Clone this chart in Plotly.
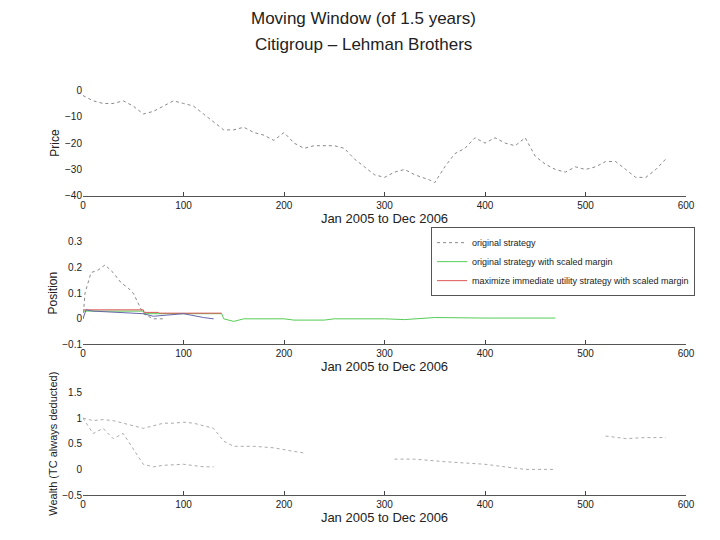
import plotly.graph_objects as go
from plotly.subplots import make_subplots

px = list(range(0, 340, 10)) + [345] + list(range(350, 590, 10))
price = [-2,-4,-5,-5,-4,-6,-9,-8,-6,-4,-5,-6,-9,-12,-15,-15,-14,-16,-17,-19,-16,-20,-22,-21,-21,-21,-22,-26,-29,-32,-33,-31,-30,-32,-34,
         -35,-29,-24,-22,-18,-20,-18,-20,-21,-18,-25,-28,-30,-31,-29,-30,-29,-27,-27,-30,-33,-33,-30,-26,-24]

pos_x_orig = [0,2,8,15,22,30,38,45,50,55,60,70,80]
pos_orig = [0.0,0.10,0.18,0.19,0.21,0.18,0.14,0.12,0.10,0.06,0.02,0.0,0.0]
pos_x_green = [0,60,61,138,140,150,160,200,210,240,250,300,320,350,400,470]
pos_green = [0.03,0.03,0.02,0.02,0.0,-0.01,0.0,0.0,-0.005,-0.005,0.0,0.0,-0.003,0.005,0.003,0.003]
pos_x_red = [0,60,61,75,76,138]
pos_red = [0.035,0.035,0.025,0.025,0.022,0.022]
pos_x_blue = [0,3,10,60,70,100,120,130]
pos_blue = [0.0,0.035,0.03,0.02,0.01,0.02,0.005,0.0]

w_x1 = [0,10,20,30,40,50,60,70,80,90,100,110,120,130,140,150,170,190,210,220]
w1 = [1.0,0.95,0.97,0.95,0.9,0.85,0.8,0.85,0.9,0.9,0.92,0.9,0.85,0.8,0.55,0.45,0.45,0.42,0.35,0.32]
w_x2 = [0,10,20,30,40,50,60,70,80,100,120,130]
w2 = [1.0,0.7,0.8,0.6,0.7,0.4,0.1,0.05,0.08,0.1,0.05,0.05]
w_x3 = [310,330,360,400,440,470]
w3 = [0.2,0.2,0.15,0.1,0.0,0.0]
w_x4 = [520,540,560,580]
w4 = [0.65,0.6,0.62,0.62]

fig = make_subplots(rows=3, cols=1)
g = dict(color="#888", width=1, dash="dot")
fig.add_trace(go.Scatter(x=px, y=price, mode="lines", line=g, showlegend=False), 1, 1)
fig.add_trace(go.Scatter(x=pos_x_orig, y=pos_orig, mode="lines", line=g, name="original strategy"), 2, 1)
fig.add_trace(go.Scatter(x=pos_x_green, y=pos_green, mode="lines", line=dict(color="#5c5", width=1), name="original strategy with scaled margin"), 2, 1)
fig.add_trace(go.Scatter(x=pos_x_red, y=pos_red, mode="lines", line=dict(color="#d55", width=1), name="maximize immediate utility strategy with scaled margin"), 2, 1)
fig.add_trace(go.Scatter(x=pos_x_blue, y=pos_blue, mode="lines", line=dict(color="#66a", width=1), showlegend=False), 2, 1)
gw = dict(color="#aaa", width=1, dash="dot")
for xs, ys in [(w_x1, w1), (w_x2, w2), (w_x3, w3), (w_x4, w4)]:
    fig.add_trace(go.Scatter(x=xs, y=ys, mode="lines", line=gw, showlegend=False), 3, 1)

ax = dict(range=[0, 600], tickvals=[0,100,200,300,400,500,600], showgrid=False, zeroline=False,
          showline=True, linecolor="#555", ticks="inside", ticklen=4, mirror=False,
          title=dict(text="Jan 2005 to Dec 2006", font=dict(size=13), standoff=0), tickfont=dict(size=10))
doms = [[1 - 186/540, 1 - 78/540], [1 - 338/540, 1 - 233/540], [1 - 492/540, 1 - 387/540]]
for r in (1, 2, 3):
    fig.update_xaxes(**ax, row=r, col=1)
    fig.update_yaxes(domain=doms[r-1], row=r, col=1)
yb = dict(showgrid=False, zeroline=False, showline=False, ticks="", tickfont=dict(size=10))
fig.update_yaxes(**yb, range=[-40, 0], tickvals=[0,-10,-20,-30,-40], title=dict(text="Price", standoff=2, font=dict(size=12)), row=1, col=1)
fig.update_yaxes(**yb, range=[-0.1, 0.3], tickvals=[-0.1,0,0.1,0.2,0.3], title=dict(text="Position", standoff=2, font=dict(size=12)), row=2, col=1)
fig.update_yaxes(**yb, range=[-0.5, 1.5], tickvals=[-0.5,0,0.5,1,1.5], title=dict(text="Wealth (TC always deducted)", standoff=2, font=dict(size=11)), row=3, col=1)

fig.add_annotation(text="Moving Window (of 1.5 years)", xref="paper", yref="paper", x=0.465, y=1 - 5/540,
                   showarrow=False, font=dict(size=17), yanchor="middle")
fig.add_annotation(text="Citigroup – Lehman Brothers", xref="paper", yref="paper", x=0.465, y=1 - 31/540,
                   showarrow=False, font=dict(size=17), yanchor="middle")
fig.update_layout(width=720, height=540, plot_bgcolor="white", paper_bgcolor="white",
                  font=dict(family="Liberation Sans, Arial", color="#222", size=12),
                  margin=dict(l=75, r=42, t=0, b=0),
                  legend=dict(x=1.015, y=1 - 218/540, xanchor="right", yanchor="top", bordercolor="#555", borderwidth=1,
                              font=dict(size=9), bgcolor="white", tracegroupgap=0, itemwidth=30))
fig.write_html("out.html")
